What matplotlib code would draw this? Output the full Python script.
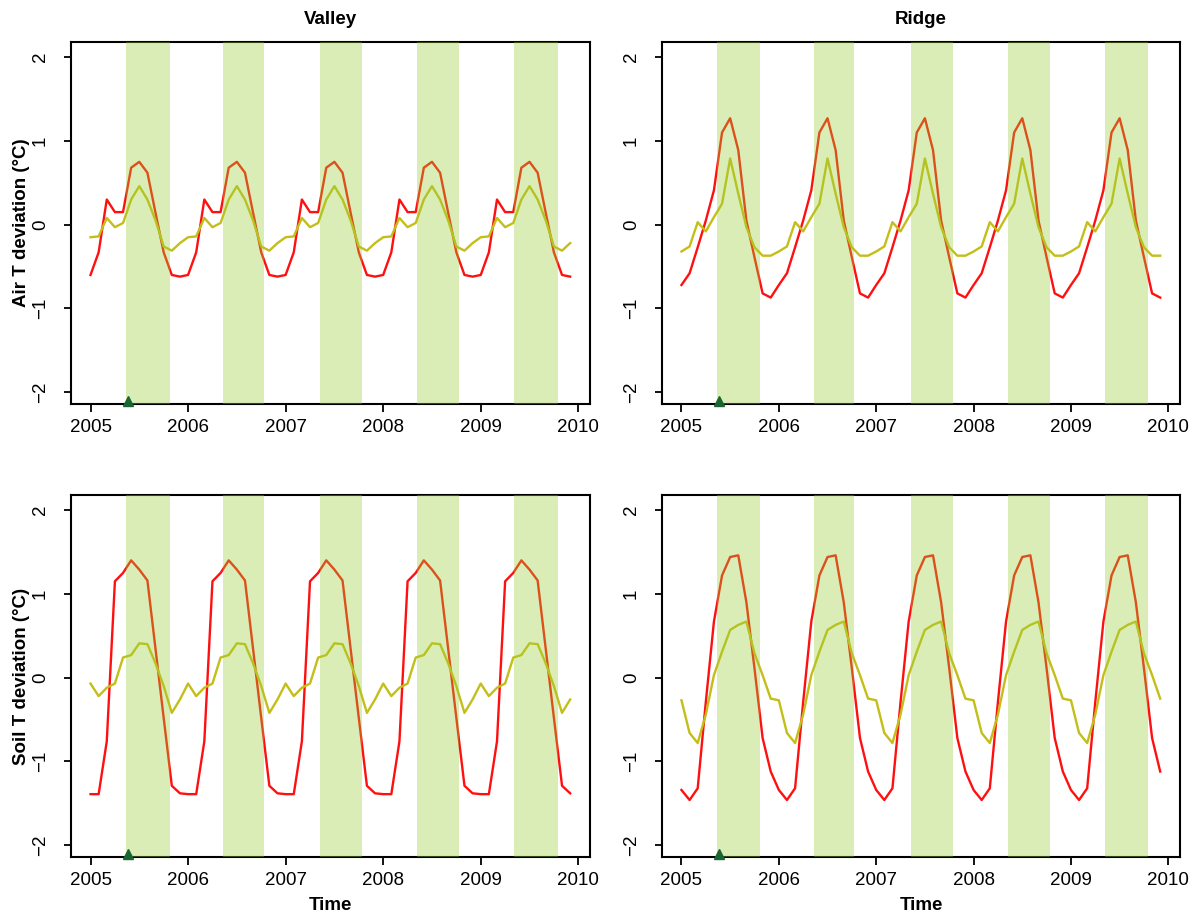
import numpy as np
import matplotlib.pyplot as plt

plt.rcParams['font.family'] = ['Liberation Sans', 'DejaVu Sans']

years = [2005, 2006, 2007, 2008, 2009]
months = np.arange(2005, 2010, 1 / 12)

# monthly deviations (same seasonal profile each year), Jan..Dec
valley_air_red = [-0.60, -0.33, 0.30, 0.15, 0.15, 0.68, 0.75, 0.62, 0.14, -0.33, -0.60, -0.62]
valley_air_yel = [-0.15, -0.14, 0.08, -0.03, 0.02, 0.30, 0.46, 0.30, 0.05, -0.26, -0.31, -0.22]
ridge_air_red = [-0.72, -0.58, -0.27, 0.05, 0.41, 1.10, 1.27, 0.89, 0.05, -0.39, -0.82, -0.87]
ridge_air_yel = [-0.32, -0.26, 0.03, -0.08, 0.09, 0.25, 0.79, 0.37, -0.03, -0.27, -0.37, -0.37]
valley_soil_red = [-1.39, -1.39, -0.76, 1.15, 1.25, 1.40, 1.29, 1.16, 0.34, -0.48, -1.29, -1.38]
valley_soil_yel = [-0.07, -0.22, -0.12, -0.07, 0.24, 0.27, 0.41, 0.40, 0.17, -0.10, -0.42, -0.26]
ridge_soil_red = [-1.34, -1.46, -1.32, -0.29, 0.67, 1.22, 1.44, 1.46, 0.90, 0.11, -0.72, -1.12]
ridge_soil_yel = [-0.27, -0.66, -0.78, -0.44, 0.03, 0.31, 0.57, 0.63, 0.67, 0.29, 0.03, -0.25]

# growing season bands
season_start = [2005.36, 2006.36, 2007.355, 2008.35, 2009.345]
season_end = [2005.81, 2006.775, 2007.785, 2008.78, 2009.79]
marker_x = 2005.385
marker_y = -2.1

RED = '#ff1010'
YEL = '#c4be18'
BAND = '#9acd32'

fig = plt.figure(figsize=(11.95, 9.17), dpi=100)
W, H = 1195, 917

def make_ax(left, top, right, bottom):
  return fig.add_axes([left / W, 1 - bottom / H, (right - left) / W, (bottom - top) / H])

panels = [
  (make_ax(71, 42, 590, 404), valley_air_red, valley_air_yel),
  (make_ax(662, 42, 1180, 404), ridge_air_red, ridge_air_yel),
  (make_ax(71, 495, 590, 857), valley_soil_red, valley_soil_yel),
  (make_ax(662, 495, 1180, 857), ridge_soil_red, ridge_soil_yel),
]

for ax, red, yel in panels:
  ax.plot(months, np.tile(red, len(years)), color=RED, lw=1.7, zorder=2)
  ax.plot(months, np.tile(yel, len(years)), color=YEL, lw=1.7, zorder=2)
  for s, e in zip(season_start, season_end):
    ax.axvspan(s, e, color=BAND, alpha=0.35, lw=0, zorder=3)
  ax.plot([marker_x], [marker_y], marker='^', color='#1a6633', ms=7, zorder=4, clip_on=False)
  ax.set_xlim(2004.8, 2010.12)
  ax.set_ylim(-2.14, 2.18)
  ax.set_xticks([2005, 2006, 2007, 2008, 2009, 2010])
  ax.set_yticks([-2, -1, 0, 1, 2])
  ax.set_yticklabels(['\u22122', '\u22121', '0', '1', '2'])
  ax.tick_params(axis='x', length=6, width=1.3, pad=5, labelsize=13.5)
  ax.tick_params(axis='y', length=5, width=1.3, pad=11, labelsize=13.5, labelrotation=90)
  for lab in ax.get_yticklabels():
    lab.set_va('center')
  for sp in ax.spines.values():
    sp.set_linewidth(1.5)

fig.text(330 / W, 1 - 20 / H, 'Valley', ha='center', va='center', fontsize=13.5, fontweight='bold')
fig.text(921 / W, 1 - 20 / H, 'Ridge', ha='center', va='center', fontsize=13.5, fontweight='bold')
fig.text(22 / W, 1 - 223 / H, 'Air T deviation (\u00b0C)', rotation=90, ha='center', va='center',
         fontsize=13.5, fontweight='bold')
fig.text(22 / W, 1 - 676 / H, 'Soil T deviation (\u00b0C)', rotation=90, ha='center', va='center',
         fontsize=13.5, fontweight='bold')
fig.text(330 / W, 1 - 905 / H, 'Time', ha='center', va='center', fontsize=13.5, fontweight='bold')
fig.text(921 / W, 1 - 905 / H, 'Time', ha='center', va='center', fontsize=13.5, fontweight='bold')

fig.savefig('out.png', dpi=100)
